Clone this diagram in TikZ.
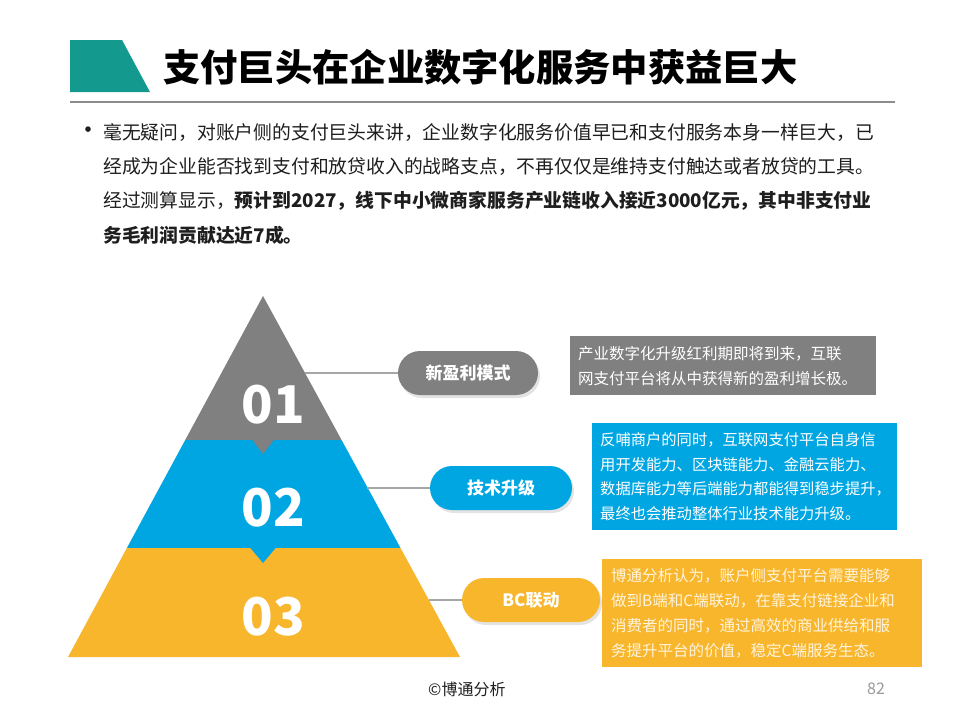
\documentclass[tikz,border=0pt]{standalone}
\usepackage{fontspec}
\setmainfont{Noto Sans CJK SC}
\usepackage{tikz}
\usetikzlibrary{positioning, shadows}

\begin{document}
\begin{tikzpicture}[x=1pt, y=-1pt,
	pillbox/.style={rounded corners=22pt, minimum height=44pt, inner sep=0pt,
		text=white, font=\fontsize{17}{20}\selectfont\bfseries,
		drop shadow={opacity=0.22, shadow xshift=2pt, shadow yshift=-3pt}},
	notebox/.style={anchor=north west, inner xsep=8pt, inner ysep=0pt,
		align=left, text=white, font=\fontsize{15.5}{24.8}\selectfont},
	numtext/.style={text=white, font=\fontsize{52}{52}\selectfont\bfseries},
	bodyline/.style={anchor=west, inner sep=0pt, text=bodyblack,
		font=\fontsize{18.8}{22}\selectfont},
	link/.style={draw=linkgray, line width=1.2pt}]
	
	% Color definitions
	\definecolor{titleteal}{HTML}{13998E}
	\definecolor{rulegray}{HTML}{8C8C8C}
	\definecolor{bodyblack}{HTML}{1E1E1E}
	\definecolor{pyrgray}{HTML}{808080}
	\definecolor{pyrblue}{HTML}{00A6E2}
	\definecolor{pyryellow}{HTML}{F8B62D}
	\definecolor{linkgray}{HTML}{A6A6A6}
	\definecolor{paleyellow}{HTML}{FFF4DC}
	\definecolor{footgray}{HTML}{9A9A9A}
	
	% Page
	\useasboundingbox[fill=white] (0,0) rectangle (960,720);
	
	% Title
	\fill[titleteal] (70,40) -- (122,40) -- (150,92) -- (70,92) -- cycle;
	\node[anchor=west, inner sep=0pt, font=\fontsize{37.3}{40}\selectfont\bfseries]
	(title) at (163,67) {支付巨头在企业数字化服务中获益巨大};
	\draw[rulegray, line width=1.3pt] (70,102) -- (895,102);
	
	% Bullet text
	\node[bodyline, font=\fontsize{26}{26}\selectfont] (dot) at (75,133) {•};
	\node[bodyline] (line1) at (103,133)
	{毫无疑问，对账户侧的支付巨头来讲，企业数字化服务价值早已和支付服务本身一样巨大，已};
	\node[bodyline] (line2) at (103,167)
	{经成为企业能否找到支付和放贷收入的战略支点，不再仅仅是维持支付触达或者放贷的工具。};
	\node[bodyline] (line3) at (103,201)
	{经过测算显示，\textbf{预计到2027，线下中小微商家服务产业链收入接近3000亿元，其中非支付业}};
	\node[bodyline, font=\fontsize{18.8}{22}\selectfont\bfseries] (line4) at (103,235)
	{务毛利润贡献达近7成。};
	
	% --- Pyramid ---
	\coordinate (apex) at (263,296);
	\coordinate (baseL) at (68,657);
	\coordinate (baseR) at (460,657);
	\begin{scope}
		\clip (apex) -- (baseR) -- (baseL) -- cycle;
		\fill[pyrgray] (60,290) rectangle (470,440);
		\fill[pyrblue] (60,440) rectangle (470,548);
		\fill[pyryellow] (60,548) rectangle (470,660);
	\end{scope}
	\fill[pyrgray] (252,439.5) -- (274,439.5) -- (263,454) -- cycle;
	\fill[pyrblue] (250,547.5) -- (276,547.5) -- (263,563) -- cycle;
	
	\node[numtext] (num1) at (273,405) {01};
	\node[numtext] (num2) at (273,508) {02};
	\node[numtext] (num3) at (273,617) {03};
	
	% --- Labels ---
	\node[pillbox, fill=pyrgray, minimum width=140pt] (pill1) at (468,373) {新盈利模式};
	\node[pillbox, fill=pyrblue, minimum width=142pt] (pill2) at (501,488) {技术升级};
	\node[pillbox, fill=pyryellow, minimum width=138pt] (pill3) at (531,600) {BC联动};
	
	\coordinate (edge1) at (305,373);
	\coordinate (edge2) at (367,488);
	\coordinate (edge3) at (429,600);
	\draw[link] (edge1) -- (pill1.west);
	\draw[link] (edge2) -- (pill2.west);
	\draw[link] (edge3) -- (pill3.west);
	
	% --- Notes ---
	\node[notebox, fill=pyrgray, minimum width=306pt, minimum height=59pt,
	text width=290pt] (note1) at (570,336)
	{产业数字化升级红利期即将到来，互联\\网支付平台将从中获得新的盈利增长极。};
	\node[notebox, fill=pyrblue, minimum width=305pt, minimum height=107pt,
	text width=289pt, font=\fontsize{15.3}{24.8}\selectfont] (note2) at (592,423)
	{反哺商户的同时，互联网支付平台自身信\\用开发能力、区块链能力、金融云能力、\\数据库能力等后端能力都能得到稳步提升，\\最终也会推动整体行业技术能力升级。};
	\node[notebox, fill=pyryellow, text=paleyellow, minimum width=318pt,
	minimum height=108pt, text width=302pt, inner xsep=9pt] (note3) at (602,559)
	{博通分析认为，账户侧支付平台需要能够\\做到B端和C端联动，在靠支付链接企业和\\消费者的同时，通过高效的商业供给和服\\务提升平台的价值，稳定C端服务生态。};
	
	% Footer
	\node[anchor=west, inner sep=0pt, text=bodyblack, font=\fontsize{16}{18}\selectfont]
	(source) at (428,689) {©博通分析};
	\node[inner sep=0pt, text=footgray, font=\fontsize{16}{18}\selectfont]
	(pageno) at (876,689) {82};
	
\end{tikzpicture}
\end{document}
